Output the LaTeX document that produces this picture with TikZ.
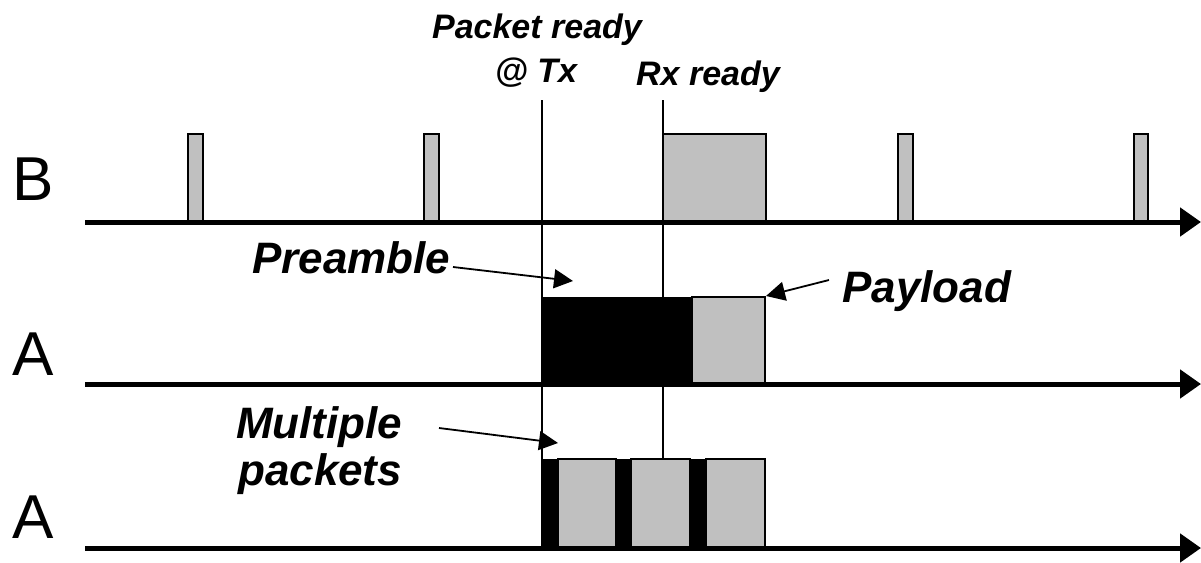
\documentclass[tikz,border=0pt]{standalone}
\usepackage{fontspec}
\setmainfont{Liberation Sans}
\usetikzlibrary{arrows.meta}
\definecolor{graybox}{HTML}{C0C0C0}
\begin{document}
\begin{tikzpicture}[x=1pt,y=-1pt,
  axis/.style={line width=5pt,-{Triangle[length=21pt,width=28pt]}},
  pulse/.style={draw=black,line width=1.6pt,fill=graybox},
  preblk/.style={draw=black,line width=1pt,fill=black},
  toplbl/.style={font=\fontsize{34}{40}\selectfont\bfseries\itshape,inner sep=0,anchor=base},
  biglbl/.style={font=\fontsize{44}{50}\selectfont\bfseries\itshape,inner sep=0,anchor=base west},
  rowlbl/.style={font=\fontsize{62}{70}\selectfont,inner sep=0,anchor=base west},
  ptr/.style={line width=1.8pt,-{Triangle[length=19pt,width=19pt]}},
  marker/.style={line width=1.2pt}]
\useasboundingbox (0,0) rectangle (1201,562);

% row labels
\node[rowlbl] (lB) at (12,200) {B};
\node[rowlbl] (lA1) at (12,375) {A};
\node[rowlbl] (lA2) at (12,538) {A};

% top labels
\node[toplbl] (pr) at (537,38) {Packet ready};
\node[toplbl] (tx) at (536,82) {@ Tx};
\node[toplbl] (rx) at (708,85) {Rx ready};

% B row pulses
\draw[pulse] (188,134) rectangle (203,222);
\draw[pulse] (424,134) rectangle (439,222);
\draw[pulse] (663,134) rectangle (766,222);
\draw[pulse] (898,134) rectangle (913,222);
\draw[pulse] (1134,134) rectangle (1148,222);

% A row 1
\draw[preblk] (542,297) rectangle (692,384);
\draw[pulse] (692,297) rectangle (765,384);

% A row 2
\draw[preblk] (542,459) rectangle (556,548);
\draw[pulse] (558,459) rectangle (616,548);
\draw[preblk] (616,459) rectangle (631,548);
\draw[pulse] (631,459) rectangle (690,548);
\draw[preblk] (690,459) rectangle (706,548);
\draw[pulse] (706,459) rectangle (765,548);

% axes
\coordinate (b0) at (85,222); \coordinate (b1) at (1201,222);
\coordinate (a0) at (85,384); \coordinate (a1) at (1201,384);
\coordinate (c0) at (85,548); \coordinate (c1) at (1201,548);
\draw[axis] (b0) -- (b1);
\draw[axis] (a0) -- (a1);
\draw[axis] (c0) -- (c1);

% marker lines
\coordinate (m1t) at (542,100); \coordinate (m1b) at (542,548);
\coordinate (m2t) at (663,100); \coordinate (m2b) at (663,459);
\draw[marker] (m1t) -- (m1b);
\draw[marker] (m2t) -- (m2b);

% callouts
\node[biglbl] (pre) at (252,273) {Preamble};
\node[biglbl] (pay) at (842,302) {Payload};
\node[biglbl] (mul) at (236,438) {Multiple};
\node[biglbl] (pkt) at (238,485) {packets};

\coordinate (preS) at (453,267); \coordinate (preT) at (573,281);
\coordinate (payS) at (829,280); \coordinate (payT) at (766,296);
\coordinate (mulS) at (439,428); \coordinate (mulT) at (558,443);
\draw[ptr] (preS) -- (preT);
\draw[ptr] (payS) -- (payT);
\draw[ptr] (mulS) -- (mulT);
\end{tikzpicture}
\end{document}
